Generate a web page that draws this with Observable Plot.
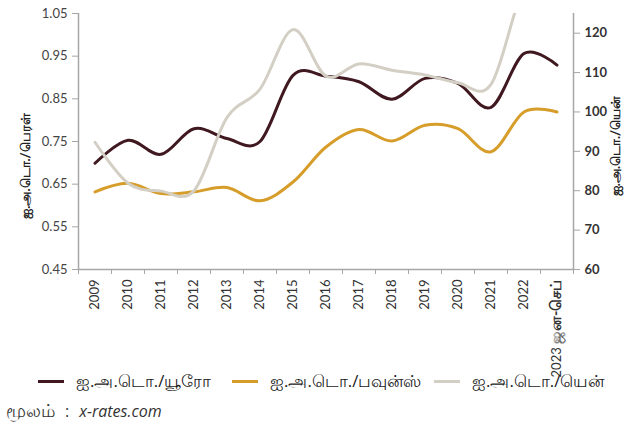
<!DOCTYPE html>
<html>
<head>
<meta charset="utf-8">
<script src="https://cdn.jsdelivr.net/npm/d3@7"></script>
<script src="https://cdn.jsdelivr.net/npm/@observablehq/plot@0.6"></script>
<style>
  html, body { margin: 0; padding: 0; background: #fff; }
  body { width: 631px; height: 425px; position: relative; overflow: hidden; font-family: "Open Sans", "Noto Sans", sans-serif; color: #1a1a1a; }
  #chart { position: absolute; left: 0; top: 0; }
  .legend { position: absolute; top: 368px; left: 0; width: 631px; height: 26px; font-size: 16.8px; }
  .item { position: absolute; top: 0; display: flex; align-items: center; height: 26px; white-space: nowrap; }
  .sw { width: 26px; height: 3px; margin-right: 12px; }
  .source { position: absolute; top: 398px; left: 6px; height: 26px; display: flex; align-items: center; color: #333; white-space: nowrap; }
  .source .ta { font-size: 18px; }
  .source .colon { font-size: 16px; margin: 0 10px 0 10px; }
  .source i { font-size: 16px; font-weight: normal; }
</style>
</head>
<body>
<div id="chart"></div>
<div class="legend" id="legend"></div>
<div class="source"><span class="ta">மூலம்</span><span class="colon">:</span><i>x-rates.com</i></div>
<script>
const years = ["2009","2010","2011","2012","2013","2014","2015","2016","2017","2018","2019","2020","2021","2022","2023 ஜன-செப்"];
const eur = [0.699,0.753,0.720,0.780,0.757,0.750,0.905,0.903,0.890,0.849,0.898,0.886,0.830,0.956,0.929];
const gbp = [0.632,0.652,0.628,0.632,0.642,0.611,0.655,0.737,0.778,0.751,0.788,0.780,0.726,0.819,0.819];
const jpy = [92.3,81.9,79.9,80.0,98.6,105.8,120.9,109.1,112.2,110.6,109.4,107.4,107.0,131.5,137.5];
const leftTicks = [0.45,0.55,0.65,0.75,0.85,0.95,1.05];
const rightTicks = [60,70,80,90,100,110,120];
const leftDomain = [0.45,1.05];
const rightDomain = [60,125];
const seriesNames = ["ஐ.அ.டொ./யூரோ","ஐ.அ.டொ./பவுன்ஸ்","ஐ.அ.டொ./யென்"];
const colors = ["#3f1820","#d69d2a","#d3cfc4"];
const leftTitle = "ஐ.அ.டொ./பெரள்";
const rightTitle = "ஐ.அ.டொ./யென்";

const toLeft = v => leftDomain[0] + (v - rightDomain[0]) * (leftDomain[1]-leftDomain[0]) / (rightDomain[1]-rightDomain[0]);
const fromLeft = d => Math.round(rightDomain[0] + (d - leftDomain[0]) * (rightDomain[1]-rightDomain[0]) / (leftDomain[1]-leftDomain[0]));

const rows = [];
years.forEach((y,i) => {
  rows.push({s: seriesNames[0], x: i + 0.5, y: eur[i]});
  rows.push({s: seriesNames[1], x: i + 0.5, y: gbp[i]});
  rows.push({s: seriesNames[2], x: i + 0.5, y: toLeft(jpy[i])});
});
const centers = years.map((d,i) => i + 0.5);
const bounds = years.map((d,i) => i).concat([years.length]);
const axisGray = "#a6a6a6";

const chart = Plot.plot({
  width: 631,
  height: 365,
  marginLeft: 78,
  marginRight: 58,
  marginTop: 13,
  marginBottom: 96,
  style: {fontFamily: "Lato, 'Noto Sans', sans-serif", fontSize: "13px", color: "#333", background: "#fff", overflow: "visible"},
  x: {domain: [0, years.length]},
  y: {domain: leftDomain},
  color: {domain: seriesNames, range: colors},
  marks: [
    Plot.ruleX([0, years.length], {stroke: axisGray, strokeWidth: 1.5}),
    Plot.ruleY([leftDomain[0]], {stroke: axisGray, strokeWidth: 1.5}),
    Plot.axisY(leftTicks, {anchor: "left", tickFormat: d3.format(".2f"), tickSize: 6, tickPadding: 5, stroke: axisGray, fill: "#444", label: null}),
    Plot.axisY(rightTicks.map(toLeft), {anchor: "right", tickFormat: fromLeft, tickSize: 6, tickPadding: 5, stroke: axisGray, fill: "#333", fontWeight: "bold", label: null}),
    Plot.axisX(bounds, {anchor: "bottom", tickFormat: () => "", tickSize: 5, stroke: axisGray, label: null}),
    Plot.axisX(centers, {anchor: "bottom", tickFormat: d => years[Math.floor(d)], tickSize: 0, tickPadding: 10, tickRotate: -90, fill: "#333", label: null}),
    Plot.line(rows, {x: "x", y: "y", z: "s", stroke: "s", strokeWidth: 3, curve: "cardinal", clip: true})
  ]
});
document.getElementById("chart").appendChild(chart);

const svg = d3.select(chart);
// enlarge the Tamil part of the last x label
svg.selectAll("text").each(function() {
  const t = this.textContent;
  if (t === years[years.length - 1]) {
    const parts = t.split(" ");
    const sel = d3.select(this);
    sel.text(null);
    sel.append("tspan").text(parts[0] + " ");
    sel.append("tspan").attr("font-size", 14.5).attr("font-weight", "bold").text(parts.slice(1).join(" "));
  }
});

// axis titles
svg.append("text").attr("transform", "translate(27,166) rotate(-90)").attr("text-anchor", "middle").attr("dominant-baseline", "middle")
  .attr("font-size", 13).attr("font-weight", "bold").attr("fill", "#222").text(leftTitle);
svg.append("text").attr("transform", "translate(617,146) rotate(-90)").attr("text-anchor", "middle").attr("dominant-baseline", "middle")
  .attr("font-size", 13).attr("font-weight", "bold").attr("fill", "#222").text(rightTitle);

// legend
const lefts = [38, 232, 434];
const legend = d3.select("#legend");
seriesNames.forEach((n,i) => {
  const it = legend.append("div").attr("class", "item").style("left", lefts[i] + "px");
  it.append("div").attr("class", "sw").style("background", colors[i]);
  it.append("span").text(n);
});
</script>
</body>
</html>
